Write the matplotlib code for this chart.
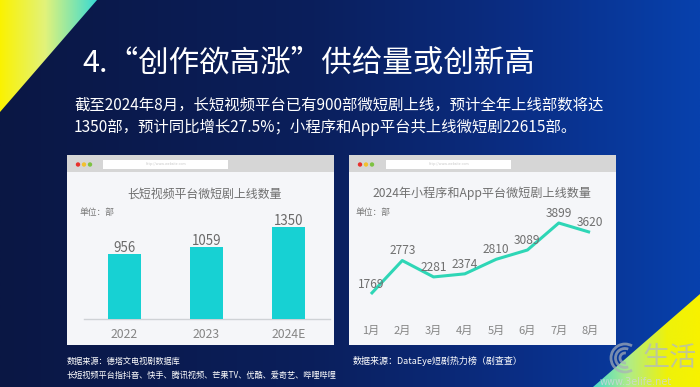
import numpy as np
import matplotlib
matplotlib.use('Agg')
import matplotlib.pyplot as plt
from matplotlib.patches import Polygon, Rectangle, Circle, Arc
from matplotlib.colors import to_rgb

plt.rcParams['font.family'] = ['Noto Sans CJK SC', 'DejaVu Sans']

# ---------------- data ----------------
title_text = '4.“创作欲高涨”供给量或创新高'
subtitle_1 = '截至2024年8月，长短视频平台已有900部微短剧上线，预计全年上线部数将达'
subtitle_2 = '1350部，预计同比增长27.5%；小程序和App平台共上线微短剧22615部。'

bar_title = '长短视频平台微短剧上线数量'
bar_years = ['2022', '2023', '2024E']
bar_values = [956, 1059, 1350]

line_title = '2024年小程序和App平台微短剧上线数量'
months = ['1月', '2月', '3月', '4月', '5月', '6月', '7月', '8月']
month_values = [1769, 2773, 2281, 2374, 2810, 3089, 3899, 3620]

unit_label = '单位：部'
source_left_1 = '数据来源：德塔文电视剧数据库'
source_left_2 = '长短视频平台指抖音、快手、腾讯视频、芒果TV、优酷、爱奇艺、哔哩哔哩'
source_right = '数据来源：DataEye短剧热力榜（剧查查）'

W, H = 700, 387
fig = plt.figure(figsize=(W / 100, H / 100), dpi=100)
bg = fig.add_axes([0, 0, 1, 1])
bg.axis('off')


def grad(stops, n=256):
    pos = np.array([s[0] for s in stops])
    cols = np.array([to_rgb(s[1]) for s in stops])
    x = np.linspace(0, 1, n)
    img = np.stack([np.interp(x, pos, cols[:, k]) for k in range(3)], axis=-1)
    return img[None, :, :]


# background
bgimg = grad([(0, '#0a1744'), (0.45, '#0b1f5c'), (0.75, '#0a2e86'), (1, '#0741ad')])
bg.imshow(bgimg, extent=(0, W, H, 0), aspect='auto', zorder=0, interpolation='bilinear')

# top-left triangle
tl = bg.imshow(grad([(0, '#fbf200'), (0.45, '#e2f37a'), (1, '#2fd9d9')]),
               extent=(0, 100, 115, 0), aspect='auto', zorder=1, interpolation='bilinear')
tl.set_clip_path(Polygon([(0, 0), (97, 0), (0, 112)], closed=True, transform=bg.transData))

# bottom-right triangle
br = bg.imshow(grad([(0, '#3fd8d2'), (0.35, '#b0ec88'), (0.7, '#eef20a'), (1, '#f8f200')]),
               extent=(590, W, H, 290), aspect='auto', zorder=1, interpolation='bilinear')
br.set_clip_path(Polygon([(W, 294), (W, H), (593, H)], closed=True, transform=bg.transData))

bg.set_xlim(0, W)
bg.set_ylim(H, 0)

# title & subtitle
bg.text(82, 63, title_text, color='white', fontsize=22, va='center', ha='left', zorder=5)
bg.text(74, 105, subtitle_1, color='white', fontsize=11.1, va='center', ha='left', zorder=5)
bg.text(74, 127, subtitle_2, color='white', fontsize=11.1, va='center', ha='left', zorder=5)

# browser-like panels
for (x0, x1, url0, url1) in [(67, 334, 103, 228), (349, 616, 386, 511)]:
    bg.add_patch(Rectangle((x0, 155), x1 - x0, 190, facecolor='#f5f6f9', edgecolor='none', zorder=3))
    bg.add_patch(Rectangle((x0, 155), x1 - x0, 17, facecolor='#d6d6d6', edgecolor='none', zorder=3))
    for dx, c in [(11, '#e8302c'), (17, '#f2c12e'), (23, '#7dc242')]:
        bg.add_patch(Circle((x0 + dx, 164.5), 2.2, facecolor=c, edgecolor='none', zorder=4))
    bg.add_patch(Rectangle((url0, 160), url1 - url0, 9, facecolor='white', edgecolor='none', zorder=4))
    bg.text((url0 + url1) / 2, 164.5, 'http://www.website.com', fontsize=2.5, color='#c8c8c8',
            ha='center', va='center', zorder=5)

bg.text(205, 194, bar_title, fontsize=8.6, color='#6f6f6f', ha='center', va='center', zorder=5)
bg.text(482, 193, line_title, fontsize=8.7, color='#6f6f6f', ha='center', va='center', zorder=5)
bg.text(80, 212, unit_label, fontsize=6.3, color='#777777', ha='left', va='center', zorder=5)
bg.text(355, 212, unit_label, fontsize=6.3, color='#777777', ha='left', va='center', zorder=5)

# sources
bg.text(67, 361, source_left_1, fontsize=5.9, color='white', ha='left', va='center', zorder=5)
bg.text(67, 375, source_left_2, fontsize=5.9, color='white', ha='left', va='center', zorder=5)
bg.text(353, 361, source_right, fontsize=6.5, color='white', ha='left', va='center', zorder=5)

# watermark
for r, a0, a1 in [(14, 60, 300), (9.5, 70, 290), (5, 80, 280)]:
    bg.add_patch(Arc((625, 358), 2 * r, 2 * r, theta1=a0, theta2=a1, color='#a9b1b9',
                     alpha=0.7, lw=2, zorder=5))
bg.text(643, 358, '生活', fontsize=19.5, color='#b2bac2', alpha=0.75, ha='left', va='center', zorder=5)
bg.text(600, 382, 'www.3elife.net', fontsize=7, color='#d0d6dc', alpha=0.8, ha='left', va='center',
        family='DejaVu Sans', zorder=5)


def pax(x0, y0, x1, y1):
    return fig.add_axes([x0 / W, 1 - y1 / H, (x1 - x0) / W, (y1 - y0) / H])


# ---------------- bar chart ----------------
axb = pax(83.5, 219, 329.5, 319)
axb.patch.set_alpha(0)
xb = np.arange(len(bar_years))
axb.bar(xb, bar_values, width=0.4, color='#17d1d3', zorder=3)
axb.set_xlim(-0.5, len(bar_years) - 0.5)
axb.set_ylim(0, 1470)
for s in ['top', 'right', 'left']:
    axb.spines[s].set_visible(False)
axb.spines['bottom'].set_color('#cfd2d6')
axb.spines['bottom'].set_linewidth(1)
axb.set_yticks([])
axb.set_xticks(xb, bar_years)
axb.tick_params(axis='x', length=0, pad=6.8, labelsize=8.8, labelcolor='#858585')
for i, v in enumerate(bar_values):
    axb.annotate(str(v), xy=(i, v), xytext=(0, 1.2), textcoords='offset points',
                 ha='center', va='baseline', fontsize=9.6, color='#6a6a6a')

# ---------------- line chart ----------------
axl = pax(355.3, 215, 605.7, 300)
axl.patch.set_alpha(0)
xl = np.arange(len(months))
axl.plot(xl, month_values, color='#2ed6b6', lw=2.2, solid_capstyle='butt', zorder=3)
axl.set_xlim(-0.5, len(months) - 0.5)
axl.set_ylim(1589, 4139)
for s in axl.spines.values():
    s.set_visible(False)
axl.set_yticks([])
axl.set_xticks(xl, months)
axl.tick_params(axis='x', length=0, pad=18.3, labelsize=8, labelcolor='#858585')
for i, v in enumerate(month_values):
    axl.annotate(str(v), xy=(i, v), xytext=(0, 4.5), textcoords='offset points',
                 ha='center', va='baseline', fontsize=8.6, color='#6f6f6f')

fig.savefig('out.png', dpi=100)
